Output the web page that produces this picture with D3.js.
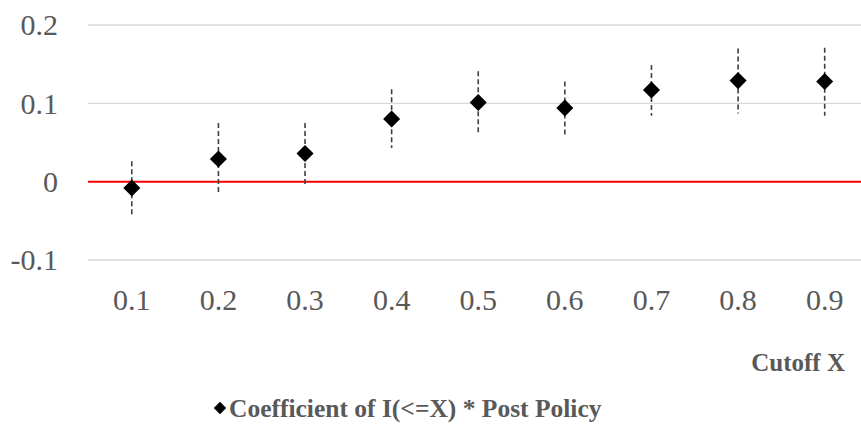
<!DOCTYPE html>
<html>
<head>
<meta charset="utf-8">
<script src="https://cdn.jsdelivr.net/npm/d3@7"></script>
<style>
  html, body { margin: 0; padding: 0; background: #fff; }
  svg { display: block; }
</style>
</head>
<body>
<svg id="chart" width="861" height="430"></svg>
<script>
// Cutoff thresholds and the estimated coefficient with its confidence interval
const cutoffs = ["0.1", "0.2", "0.3", "0.4", "0.5", "0.6", "0.7", "0.8", "0.9"];
const coef    = [-0.008, 0.029, 0.036, 0.080, 0.101, 0.094, 0.117, 0.129, 0.128];
const upper   = [0.026, 0.075, 0.075, 0.118, 0.141, 0.128, 0.149, 0.170, 0.171];
const lower   = [-0.042, -0.016, -0.004, 0.043, 0.061, 0.060, 0.084, 0.087, 0.084];
const yTicks  = [-0.1, 0, 0.1, 0.2];
const yTickLabels = ["-0.1", "0", "0.1", "0.2"];

const svg = d3.select("#chart");
const font = "'Liberation Serif', 'Times New Roman', serif";
const textColor = "#595959";

const x = d3.scaleBand().domain(cutoffs).range([88.5, 868]).paddingInner(0).paddingOuter(0);
const y = d3.scaleLinear().domain([-0.1, 0.2]).range([260, 25]);

// Horizontal gridlines (zero line drawn separately in red)
svg.append("g")
  .selectAll("line")
  .data(yTicks.filter(d => d !== 0))
  .join("line")
  .attr("x1", 88).attr("x2", 861)
  .attr("y1", d => y(d)).attr("y2", d => y(d))
  .attr("stroke", "#d9d9d9")
  .attr("stroke-width", 1.3);

// Y axis labels
const yAxis = d3.axisLeft(y).tickValues(yTicks)
  .tickFormat((d, i) => yTickLabels[i]).tickSize(0).tickPadding(0);
const gy = svg.append("g").attr("transform", "translate(58,0)").call(yAxis);
gy.select(".domain").remove();
gy.selectAll("text")
  .attr("font-family", font).attr("font-size", 30)
  .attr("fill", textColor).attr("dy", "0.33em");

// Zero reference line
svg.append("line")
  .attr("x1", 88).attr("x2", 861)
  .attr("y1", y(0)).attr("y2", y(0))
  .attr("stroke", "#ff0000")
  .attr("stroke-width", 2);

// X axis labels
const xAxis = d3.axisBottom(x).tickSize(0).tickPadding(0);
const gx = svg.append("g").attr("transform", "translate(0,287)").call(xAxis);
gx.select(".domain").remove();
gx.selectAll("text")
  .attr("font-family", font).attr("font-size", 30)
  .attr("fill", textColor).attr("dy", "0.76em");

const cx = d => x(d) + x.bandwidth() / 2;

// Dashed confidence-interval whiskers
svg.append("g")
  .selectAll("line")
  .data(cutoffs)
  .join("line")
  .attr("x1", cx).attr("x2", cx)
  .attr("y1", (d, i) => y(upper[i]))
  .attr("y2", (d, i) => y(lower[i]))
  .attr("stroke", "#404040")
  .attr("stroke-width", 1.6)
  .attr("stroke-dasharray", "5,3");

// Diamond point estimates
const diamond = d3.symbol().type(d3.symbolDiamond2).size(185);
svg.append("g")
  .selectAll("path")
  .data(cutoffs)
  .join("path")
  .attr("d", diamond)
  .attr("transform", (d, i) => `translate(${cx(d)},${y(coef[i])})`)
  .attr("fill", "#000");

// Axis title
svg.append("text")
  .attr("x", 845).attr("y", 371)
  .attr("text-anchor", "end")
  .attr("font-family", font).attr("font-size", 25)
  .attr("font-weight", "bold").attr("fill", textColor)
  .text("Cutoff X");

// Legend
const legend = svg.append("g");
legend.append("path")
  .attr("d", d3.symbol().type(d3.symbolDiamond2).size(100)())
  .attr("transform", "translate(220,408)")
  .attr("fill", "#000");
legend.append("text")
  .attr("x", 229).attr("y", 417)
  .attr("font-family", font).attr("font-size", 25.5)
  .attr("font-weight", "bold").attr("fill", textColor)
  .text("Coefficient of I(<=X) * Post Policy");
</script>
</body>
</html>
